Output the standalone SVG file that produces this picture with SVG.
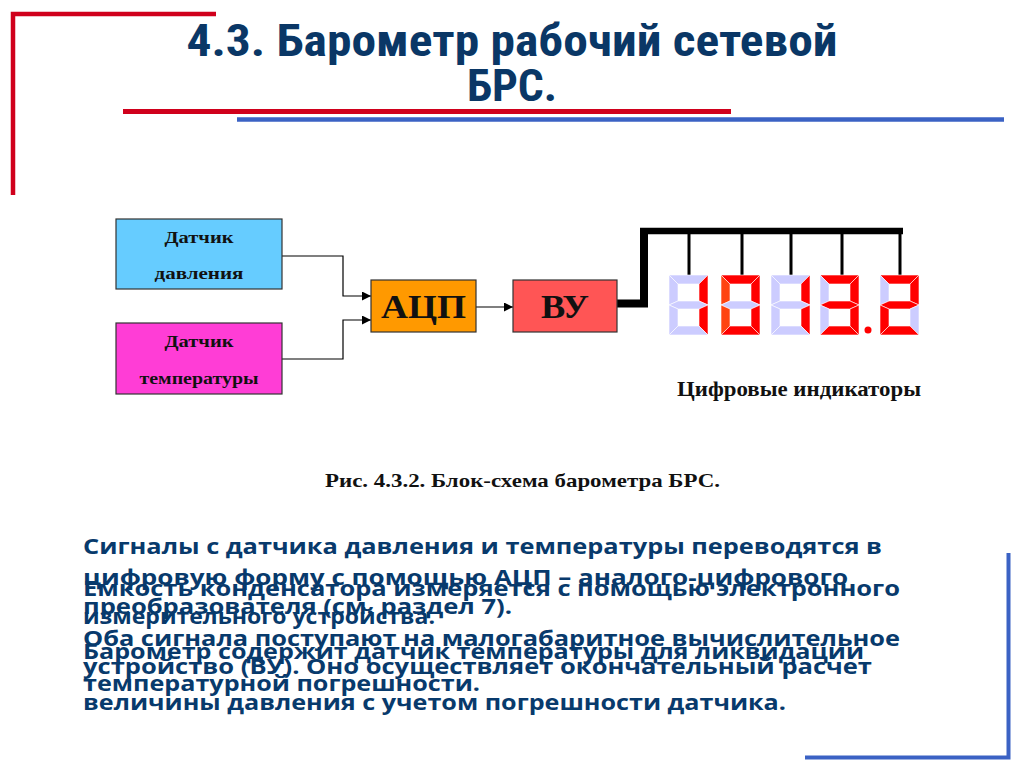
<svg xmlns="http://www.w3.org/2000/svg" xmlns:xlink="http://www.w3.org/1999/xlink" width="1024" height="768" viewBox="0 0 1024 768">
<style>
.title{font-family:"Liberation Sans Narrow","Roboto Condensed","Liberation Sans",sans-serif;font-weight:700;font-size:45px;fill:#0a3766;text-anchor:middle}
.body{font-family:"Open Sans","Noto Sans","DejaVu Sans",sans-serif;font-weight:700;font-size:21.5px;fill:#083a6c}
.box{stroke:#333;stroke-width:1.2}
.lbl{font-family:"Liberation Serif","Times New Roman",serif;font-weight:700;fill:#111;text-anchor:middle}
.conn{fill:none;stroke:#000;stroke-width:1.2}
.bus{fill:none;stroke:#000;stroke-linejoin:miter}
.on{fill:#ff0000}
.or{fill:#ff4411}
.off{fill:#ccccff}
.seg{stroke:#fff;stroke-width:0.6}
.red{stroke:#d0001c;fill:none}
.blue{stroke:#3b62c4;fill:none}
</style>
<defs>
<marker id="arr" viewBox="0 0 10 10" refX="10" refY="5" markerWidth="9" markerHeight="9" markerUnits="userSpaceOnUse" orient="auto">
<path d="M0,0 L10,5 L0,10 z" fill="#000"/>
</marker>
<polygon id="sa" points="0,0 39,0 30,9 9,9"/>
<polygon id="sf" points="0,0 9,9 9,26 0,30"/>
<polygon id="sb" points="39,0 39,30 30,26 30,9"/>
<polygon id="sg" points="0,30 9,26 30,26 39,30 30,34 9,34"/>
<polygon id="se" points="0,30 9,34 9,51 0,60"/>
<polygon id="sc" points="39,30 39,60 30,51 30,34"/>
<polygon id="sd" points="0,60 9,51 30,51 39,60"/>
</defs>
<rect width="1024" height="768" fill="#fff"/>
<g id="decor">
<path class="red" stroke-width="4.5" d="M13,195 V14 H216"/>
<path class="red" stroke-width="5" d="M123,111.5 H731"/>
<path class="blue" stroke-width="4.5" d="M237,119.5 H1004"/>
<path class="blue" stroke-width="4" d="M1008.5,553 V757.5 H805"/>
</g>
<g id="title">
<text class="title" x="512" y="56" textLength="651" lengthAdjust="spacingAndGlyphs">4.3. Барометр рабочий сетевой</text>
<text class="title" x="512" y="101" textLength="90" lengthAdjust="spacingAndGlyphs">БРС.</text>
</g>
<g id="connectors">
<path class="conn" d="M282,256 H343 V296 H371" marker-end="url(#arr)"/>
<path class="conn" d="M282,359 H343 V320 H371" marker-end="url(#arr)"/>
<path class="conn" d="M476,307 H513" marker-end="url(#arr)"/>
<path class="bus" stroke-width="8" d="M617,303.5 H644 V231"/>
<path class="bus" stroke-width="6.5" d="M640,231 H903"/>
<path class="bus" stroke-width="3" d="M689,231 V275 M742,231 V275 M791,231 V275 M842,231 V275 M900,231 V275"/>
</g>
<g id="pressure-sensor">
<rect class="box" x="116" y="219" width="166" height="70" fill="#66ccff"/>
<text class="lbl" x="199" y="243" font-size="17" textLength="69" lengthAdjust="spacingAndGlyphs">Датчик</text>
<text class="lbl" x="199" y="279" font-size="17" textLength="89" lengthAdjust="spacingAndGlyphs">давления</text>
</g>
<g id="temp-sensor">
<rect class="box" x="116" y="323" width="166" height="71" fill="#ff3dd6"/>
<text class="lbl" x="199" y="347" font-size="17" textLength="69" lengthAdjust="spacingAndGlyphs">Датчик</text>
<text class="lbl" x="199" y="384" font-size="17" textLength="119" lengthAdjust="spacingAndGlyphs">температуры</text>
</g>
<g id="adc">
<rect class="box" x="371" y="280" width="105" height="52" fill="#ff9900"/>
<text class="lbl" x="423.5" y="318" font-size="33" textLength="85" lengthAdjust="spacingAndGlyphs">АЦП</text>
</g>
<g id="cpu">
<rect class="box" x="513" y="280" width="104" height="52" fill="#ff5555"/>
<text class="lbl" x="565" y="318" font-size="33" textLength="48" lengthAdjust="spacingAndGlyphs">ВУ</text>
</g>
<g id="indicators">
<g transform="translate(669,275)" class="seg">
<use xlink:href="#sa" class="off"/><use xlink:href="#sf" class="off"/><use xlink:href="#sb" class="on"/><use xlink:href="#sg" class="off"/><use xlink:href="#se" class="off"/><use xlink:href="#sc" class="on"/><use xlink:href="#sd" class="off"/>
</g>
<g transform="translate(721,275)" class="seg">
<use xlink:href="#sa" class="on"/><use xlink:href="#sf" class="or"/><use xlink:href="#sb" class="on"/><use xlink:href="#sg" class="off"/><use xlink:href="#se" class="or"/><use xlink:href="#sc" class="on"/><use xlink:href="#sd" class="on"/>
</g>
<g transform="translate(771,275)" class="seg">
<use xlink:href="#sa" class="off"/><use xlink:href="#sf" class="off"/><use xlink:href="#sb" class="on"/><use xlink:href="#sg" class="off"/><use xlink:href="#se" class="off"/><use xlink:href="#sc" class="on"/><use xlink:href="#sd" class="off"/>
</g>
<g transform="translate(820,275)" class="seg">
<use xlink:href="#sa" class="on"/><use xlink:href="#sf" class="off"/><use xlink:href="#sb" class="on"/><use xlink:href="#sg" class="on"/><use xlink:href="#se" class="off"/><use xlink:href="#sc" class="on"/><use xlink:href="#sd" class="on"/>
</g>
<circle cx="868" cy="330" r="3.5" fill="#ff0000"/>
<g transform="translate(880,275)" class="seg">
<use xlink:href="#sa" class="on"/><use xlink:href="#sf" class="off"/><use xlink:href="#sb" class="on"/><use xlink:href="#sg" class="on"/><use xlink:href="#se" class="on"/><use xlink:href="#sc" class="off"/><use xlink:href="#sd" class="on"/>
</g>
<text class="lbl" x="799" y="396" font-size="20" textLength="244" lengthAdjust="spacingAndGlyphs">Цифровые индикаторы</text>
</g>
<g id="caption">
<text class="lbl" x="522.5" y="487" font-size="19" textLength="395" lengthAdjust="spacingAndGlyphs">Рис. 4.3.2. Блок-схема барометра БРС.</text>
</g>
<g id="text-block-1">
<text class="body" x="83" y="554" textLength="799" lengthAdjust="spacingAndGlyphs">Сигналы с датчика давления и температуры переводятся в</text>
<text class="body" x="83" y="585" textLength="765" lengthAdjust="spacingAndGlyphs">цифровую форму с помощью АЦП – аналого-цифрового</text>
<text class="body" x="83" y="614" textLength="429" lengthAdjust="spacingAndGlyphs">преобразователя (см. раздел 7).</text>
<text class="body" x="83" y="646" textLength="817" lengthAdjust="spacingAndGlyphs">Оба сигнала поступают на малогабаритное вычислительное</text>
<text class="body" x="83" y="674" textLength="789" lengthAdjust="spacingAndGlyphs">устройство (ВУ). Оно осуществляет окончательный расчет</text>
<text class="body" x="83" y="710" textLength="703" lengthAdjust="spacingAndGlyphs">величины давления с учетом погрешности датчика.</text>
</g>
<g id="text-block-2">
<text class="body" x="83" y="596" textLength="817" lengthAdjust="spacingAndGlyphs">Емкость конденсатора измеряется с помощью электронного</text>
<text class="body" x="83" y="624" textLength="352" lengthAdjust="spacingAndGlyphs">измерительного устройства.</text>
<text class="body" x="83" y="659" textLength="781" lengthAdjust="spacingAndGlyphs">Барометр содержит датчик температуры для ликвидации</text>
<text class="body" x="83" y="691" textLength="397" lengthAdjust="spacingAndGlyphs">температурной погрешности.</text>
</g>
</svg>
